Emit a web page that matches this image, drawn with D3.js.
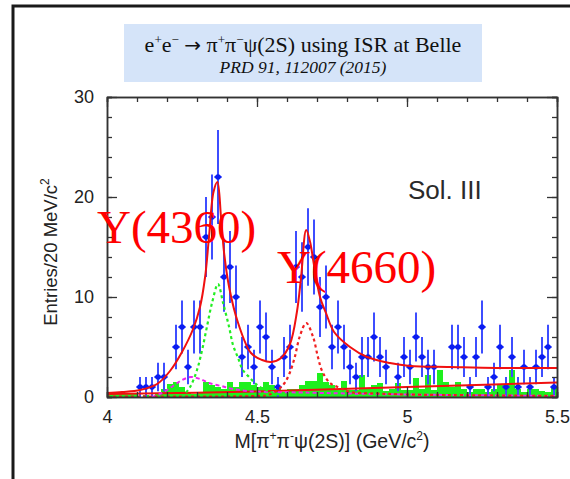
<!DOCTYPE html>
<html><head><meta charset="utf-8">
<script src="https://cdn.jsdelivr.net/npm/d3@7"></script>
<style>body{margin:0;background:#fff}svg{display:block}</style>
</head><body>
<svg id="c" width="570" height="479"></svg>
<script>
// ---------- data ----------
const binStart = 4.0, binWidth = 0.02;
const counts = [0,0,0,0,0,1,1,1,2,2,0,5,7,3,7,7,16,18,22,12,13,10,4,5,3,7,6,3,1,4,5,13,12,15,14,9,10,5,7,5,3,2,4,4,6,4,3,0,2,4,3,6,4,3,3,0,0,5,5,4,1,4,7,1,2,5,1,4,1,3,1,3,4,5,1];
const sideband = [0.3,0.5,0.5,0.3,0.3,0,0.2,0,0.3,0.8,1.3,1.5,1.0,0.5,0.3,0.5,1.5,1.2,1.0,0.8,1.5,1.0,1.5,1.5,1.2,1.0,1.5,1.2,0.8,0.5,0.8,0.8,1.2,1.6,1.6,2.4,1.5,1.2,0.8,1.6,0.7,0.7,2.2,0.8,1.2,1.4,0.6,0.8,1.4,0.7,0.7,1.9,0.8,2.2,0.7,2.7,1.5,1.0,1.5,0.8,0.5,0.8,0.8,0.5,0.8,1.2,1.2,2.7,0.8,0.5,0.8,0.8,0.6,0.5,1.0];

const totalMass = [4.000,4.050,4.110,4.167,4.210,4.250,4.287,4.310,4.327,4.340,4.355,4.368,4.380,4.390,4.407,4.437,4.480,4.517,4.547,4.580,4.610,4.633,4.647,4.664,4.677,4.690,4.710,4.730,4.757,4.810,4.867,4.943,5.010,5.143,5.300,5.500];
const totalVal  = [0.4,0.5,0.7,1.3,2.6,4.5,6.8,9.0,12,16,20.5,21.5,18,14.5,11,7.4,4.4,3.7,3.5,3.9,5.3,8.5,12,16.7,15.5,13.2,10,8.4,6.5,5.0,4.0,3.4,3.1,3.0,2.9,2.9];

const y4360Mass = [4.250,4.277,4.300,4.317,4.333,4.350,4.370,4.387,4.407,4.420,4.437,4.453,4.477,4.500,4.530,4.570,4.620];
const y4360Val  = [0,1.0,2.7,4.7,7.0,9.4,11.3,9.4,7.0,5.2,3.9,2.7,1.9,1.2,0.7,0.3,0.1];

const nonresMass = [4.150,4.183,4.220,4.250,4.280,4.310,4.340,4.380,4.420,4.470,4.550,4.650,4.800,5.000,5.500];
const nonresVal  = [0.0,0.4,1.1,1.7,2.0,1.8,1.4,1.1,0.8,0.6,0.5,0.45,0.35,0.25,0.1];

const y4660Mass = [4.000,4.500,4.537,4.570,4.592,4.609,4.626,4.642,4.664,4.687,4.703,4.717,4.743,4.777,4.810,4.900,5.000,5.500];
const y4660Val  = [0.05,0.1,0.2,0.7,1.4,2.4,4.0,6.0,7.4,6.0,4.0,2.6,1.4,0.9,0.5,0.35,0.25,0.1];

const bkgMass = [4.0,4.5,5.0,5.5];
const bkgVal  = [0.3,0.55,1.0,1.45];

const xMajorTicks = [4, 4.5, 5, 5.5];
const yMajorTicks = [0, 10, 20, 30];

// ---------- drawing ----------
const svg = d3.select("#c");
const x = d3.scaleLinear().domain([4, 5.5]).range([107, 557]);
const y = d3.scaleLinear().domain([0, 30]).range([397, 97]);

// outer frame
svg.append("rect").attr("x", 13).attr("y", 6).attr("width", 600).attr("height", 500)
  .attr("fill", "none").attr("stroke", "#1a1a1a").attr("stroke-width", 3);

// title box
svg.append("rect").attr("x", 124).attr("y", 24).attr("width", 358).attr("height", 58)
  .attr("fill", "#d5e4f9");
const serif = "'Liberation Serif','Times New Roman',serif";
const t1 = svg.append("text").attr("x", 303).attr("y", 52).attr("text-anchor", "middle")
  .attr("font-family", serif).attr("font-size", 22).attr("fill", "#111");
t1.append("tspan").text("e");
t1.append("tspan").attr("font-size", 13).attr("dy", -8).text("+");
t1.append("tspan").attr("dy", 8).text("e");
t1.append("tspan").attr("font-size", 13).attr("dy", -8).text("\u2212");
t1.append("tspan").attr("dy", 8).text(" ");
t1.append("tspan").attr("font-family", "'DejaVu Sans',sans-serif").attr("font-size", 20).text("\u2192");
t1.append("tspan").text(" \u03c0");
t1.append("tspan").attr("font-size", 13).attr("dy", -8).text("+");
t1.append("tspan").attr("dy", 8).text("\u03c0");
t1.append("tspan").attr("font-size", 13).attr("dy", -8).text("\u2212");
t1.append("tspan").attr("dy", 8).text("\u03c8(2S) using ISR at Belle");
svg.append("text").attr("x", 303).attr("y", 73).attr("text-anchor", "middle")
  .attr("font-family", serif).attr("font-style", "italic")
  .attr("font-size", 17.5).attr("fill", "#111").text("PRD 91, 112007 (2015)");

const plot = svg.append("g");

// sideband histogram (green)
plot.append("g").selectAll("rect").data(sideband).join("rect")
  .attr("x", (d, i) => x(binStart + i * binWidth))
  .attr("width", (d, i) => x(binStart + (i + 1) * binWidth) - x(binStart + i * binWidth))
  .attr("y", d => y(d)).attr("height", d => y(0) - y(d))
  .attr("fill", "#1ef01e");

// data points
const pts = counts.map((c, i) => ({m: binStart + (i + 0.5) * binWidth, c, e: Math.sqrt(c)})).filter(d => d.c > 0);
const dp = plot.append("g");
dp.selectAll("line.ey").data(pts).join("line").attr("class", "ey")
  .attr("x1", d => x(d.m)).attr("x2", d => x(d.m))
  .attr("y1", d => y(d.c - d.e)).attr("y2", d => y(d.c + d.e))
  .attr("stroke", "#3d4dff").attr("stroke-width", 2);
dp.selectAll("line.ex").data(pts).join("line").attr("class", "ex")
  .attr("x1", d => x(d.m - binWidth * 0.6)).attr("x2", d => x(d.m + binWidth * 0.6))
  .attr("y1", d => y(d.c)).attr("y2", d => y(d.c))
  .attr("stroke", "#1a2cff").attr("stroke-width", 2);
dp.selectAll("circle").data(pts).join("circle")
  .attr("cx", d => x(d.m)).attr("cy", d => y(d.c)).attr("r", 2.8).attr("fill", "#0a1cf0");

// curves
const mk = (ms, vs) => ms.map((m, i) => [m, vs[i]]);
const line = d3.line().x(d => x(d[0])).y(d => y(d[1])).curve(d3.curveCatmullRom.alpha(0.5));
plot.append("path").attr("d", line(mk(bkgMass, bkgVal))).attr("fill", "none")
  .attr("stroke", "#f01010").attr("stroke-width", 2);
plot.append("path").attr("d", line(mk(nonresMass, nonresVal))).attr("fill", "none")
  .attr("stroke", "#ee22ee").attr("stroke-width", 2).attr("stroke-dasharray", "4,3");
plot.append("path").attr("d", line(mk(y4660Mass, y4660Val))).attr("fill", "none")
  .attr("stroke", "#f02020").attr("stroke-width", 2.2).attr("stroke-dasharray", "3,3");
plot.append("path").attr("d", line(mk(y4360Mass, y4360Val))).attr("fill", "none")
  .attr("stroke", "#22ee22").attr("stroke-width", 2.2).attr("stroke-dasharray", "3,3");
plot.append("path").attr("d", line(mk(totalMass, totalVal))).attr("fill", "none")
  .attr("stroke", "#f01010").attr("stroke-width", 2);

// axes frame
const fontSans = "'Liberation Sans',Arial,Helvetica,sans-serif";
const xMinor = d3.range(4, 5.5001, 0.1);
const yMinor = d3.range(0, 30.001, 2);
function styleAxis(g) {
  g.select(".domain").attr("stroke", "#333").attr("stroke-width", 1.5);
  g.selectAll(".tick line").attr("stroke", "#333").attr("stroke-width", 1.3);
  g.selectAll("text").attr("font-family", fontSans).attr("font-size", 18).attr("fill", "#222");
}
const axB = svg.append("g").attr("transform", `translate(0,${y(0)})`)
  .call(d3.axisBottom(x).tickValues(xMajorTicks).tickSizeInner(-10).tickSizeOuter(0).tickPadding(13).tickFormat(d3.format("")));
styleAxis(axB);
svg.append("g").attr("transform", `translate(0,${y(0)})`)
  .call(d3.axisBottom(x).tickValues(xMinor).tickSize(-5).tickFormat("")).call(styleAxis);
svg.append("g").attr("transform", `translate(0,${y(30)})`)
  .call(d3.axisTop(x).tickValues(xMajorTicks).tickSizeInner(-10).tickSizeOuter(0).tickFormat("")).call(styleAxis);
svg.append("g").attr("transform", `translate(0,${y(30)})`)
  .call(d3.axisTop(x).tickValues(xMinor).tickSize(-5).tickFormat("")).call(styleAxis);
const axL = svg.append("g").attr("transform", `translate(${x(4)},0)`)
  .call(d3.axisLeft(y).tickValues(yMajorTicks).tickSizeInner(-10).tickSizeOuter(0).tickPadding(13));
styleAxis(axL);
svg.append("g").attr("transform", `translate(${x(4)},0)`)
  .call(d3.axisLeft(y).tickValues(yMinor).tickSize(-5).tickFormat("")).call(styleAxis);
svg.append("g").attr("transform", `translate(${x(5.5)},0)`)
  .call(d3.axisRight(y).tickValues(yMajorTicks).tickSizeInner(-10).tickSizeOuter(0).tickFormat("")).call(styleAxis);
svg.append("g").attr("transform", `translate(${x(5.5)},0)`)
  .call(d3.axisRight(y).tickValues(yMinor).tickSize(-5).tickFormat("")).call(styleAxis);

// axis titles
const xt = svg.append("text").attr("x", 332).attr("y", 448).attr("text-anchor", "middle")
  .attr("font-family", fontSans).attr("font-size", 19.5).attr("fill", "#222");
xt.append("tspan").text("M[\u03c0");
xt.append("tspan").attr("font-size", 12).attr("dy", -8).text("+");
xt.append("tspan").attr("dy", 8).text("\u03c0");
xt.append("tspan").attr("font-size", 12).attr("dy", -8).text("-");
xt.append("tspan").attr("dy", 8).text("\u03c8(2S)] (GeV/c");
xt.append("tspan").attr("font-size", 12).attr("dy", -8).text("2");
xt.append("tspan").attr("dy", 8).text(")");

const yt = svg.append("text").attr("transform", "translate(57,252) rotate(-90)").attr("text-anchor", "middle")
  .attr("font-family", fontSans).attr("font-size", 18.5).attr("fill", "#222");
yt.append("tspan").text("Entries/20 MeV/c");
yt.append("tspan").attr("font-size", 12).attr("dy", -8).text("2");

// Sol. III
svg.append("text").attr("x", 408).attr("y", 199).attr("font-family", fontSans)
  .attr("font-size", 26).attr("fill", "#2a2a2a").text("Sol. III");

// resonance labels
svg.append("text").attr("x", 97).attr("y", 243).attr("font-family", serif)
  .attr("font-size", 47).attr("fill", "#ff0000").text("Y(4360)");
svg.append("text").attr("x", 277).attr("y", 283).attr("font-family", serif)
  .attr("font-size", 47).attr("fill", "#ff0000").text("Y(4660)");
</script>
</body></html>
